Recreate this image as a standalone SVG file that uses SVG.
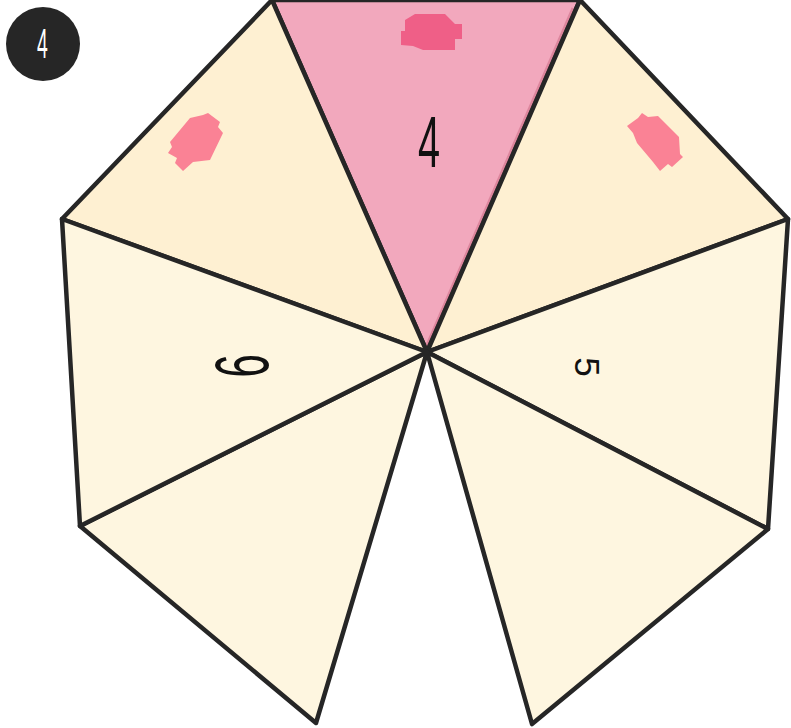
<svg xmlns="http://www.w3.org/2000/svg" width="791" height="728" viewBox="0 0 791 728">
<style>
.tri{stroke:#262626;stroke-width:4.5;stroke-linejoin:round}
.pink{fill:#f2a8bd}
.peach{fill:#fef0d2}
.cream{fill:#fef6e0}
.blob{fill:#fa8295}
.num{font-family:"Liberation Sans","DejaVu Sans",sans-serif;fill:#111;text-anchor:middle}
</style>
<rect width="791" height="728" fill="#ffffff"/>
<g id="face-top">
<polygon class="tri pink" points="427,352 272,0 580,0"/>
<path d="M424,352 L573,8" stroke="#c8637e" stroke-width="3" fill="none" opacity="0.5"/>
<polygon fill="#ef5f87" points="405,20 415,14 445,14 455,24 462,24 462,39 455,39 455,50 423,50 413,46 401,45 401,31 405,31"/>
<text class="num" font-size="72" transform="translate(429,167) scale(0.55,1)">4</text>
</g>
<g id="face-top-right">
<polygon class="tri peach" points="427,352 580,0 788,219"/>
<polygon class="blob" points="627,126 638,118 642,113 648,117 658,116 679,137 680,154 683,157 672,167 668,164 660,171 653,162 637,143 633,133"/>
</g>
<g id="face-top-left">
<polygon class="tri peach" points="427,352 62,219 272,0"/>
<polygon class="blob" points="190,118 203,115 208,113 220,122 218,127 223,133 210,160 193,162 183,171 175,163 177,158 168,153 172,147 170,142"/>
</g>
<g id="face-right">
<polygon class="tri cream" points="427,352 788,219 768,529"/>
<text class="num" font-size="35" transform="translate(575,367) rotate(90)">5</text>
</g>
<g id="face-bottom-right">
<polygon class="tri cream" points="427,352 768,529 532,724"/>
</g>
<g id="face-bottom-left">
<polygon class="tri cream" points="427,352 316,723 80,526"/>
</g>
<g id="face-left">
<polygon class="tri cream" points="427,352 80,526 62,219"/>
<text class="num" font-size="76" transform="translate(268,366) rotate(-90) scale(0.55,1)">6</text>
</g>
<g id="badge">
<circle cx="43" cy="44" r="37" fill="#262626"/>
<text class="num" font-size="43" fill="#ffffff" style="fill:#ffffff" transform="translate(42.5,58) scale(0.45,1)">4</text>
</g>
<g id="connectors"></g>
</svg>
